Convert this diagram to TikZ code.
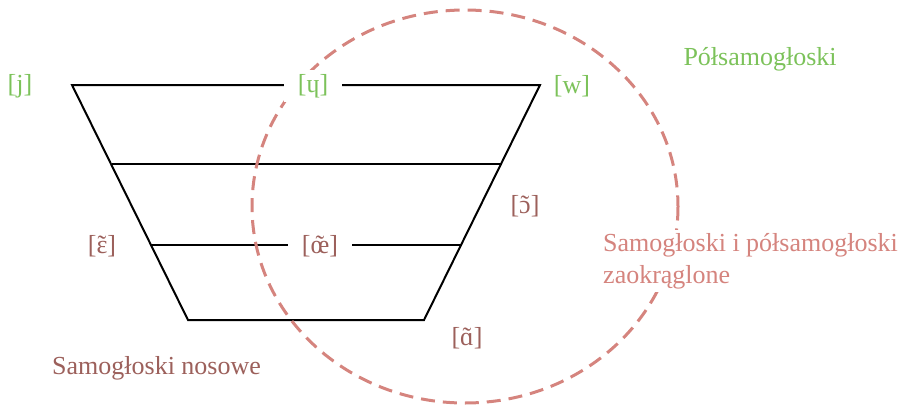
\documentclass[tikz,border=0pt]{standalone}
\usepackage{fontspec}
\setmainfont{Liberation Serif}
\usepackage{xcolor}
\usepackage{tikz}
\definecolor{leaf}{HTML}{7CC25A}
\definecolor{clay}{HTML}{9C605B}
\definecolor{rose}{HTML}{D5847E}
\newcommand{\nasal}[1]{\ooalign{#1\cr\hidewidth˜\hidewidth\cr}}

\begin{document}
\begin{tikzpicture}[x=1pt,y=-1pt,font=\fontsize{26}{32}\selectfont,
  lab/.style={fill=white,inner xsep=14pt,inner ysep=4pt}]
\useasboundingbox (0,0) rectangle (905,407);
% trapezoid and levels
\draw[line width=2pt,line join=miter] (72,85)--(540,85)--(424,320)--(188,320)--cycle;
\draw[line width=2pt] (111.5,164)--(501,164);
\draw[line width=2pt] (151,245)--(461,245);
% rounded set
\draw[rose,line width=3pt,dash pattern=on 14pt off 8pt] (465,206.5) ellipse (213 and 196.5);
% labels
\node[leaf] (j) at (20,86) {[j]};
\node[leaf,lab] (yu) at (313,86) {[ɥ]};
\node[leaf] (w) at (572,86) {[w]};
\node[leaf,anchor=base west] (semi) at (680,65) {Półsamogłoski};
\node[clay] (on) at (525,206) {[\nasal{ɔ}]};
\node[clay] (en) at (102,246) {[\nasal{ɛ}]};
\node[clay,lab] (oen) at (320,246) {[\nasal{œ}]};
\node[clay] (an) at (467,338) {[\nasal{ɑ}]};
\node[clay,anchor=base west,inner sep=0pt] (nasal) at (52,374) {Samogłoski nosowe};
\node[rose,fill=white,align=left,anchor=west,inner sep=3pt] (round) at (600,261)
  {Samogłoski i półsamogłoski\\zaokrąglone};
\end{tikzpicture}
\end{document}
